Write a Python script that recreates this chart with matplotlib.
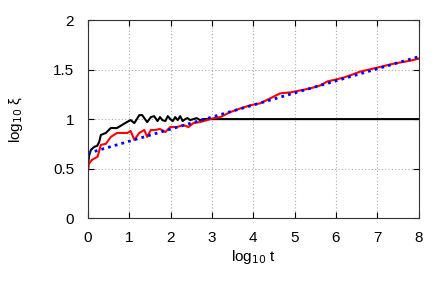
import matplotlib
matplotlib.use("Agg")
import matplotlib.pyplot as plt

plt.rcParams['font.family'] = ['Liberation Sans', 'DejaVu Sans']

# black curve (saturates at 1)
xb = [0, 0.03, 0.07, 0.15, 0.22, 0.27, 0.31, 0.37, 0.43, 0.55, 0.62, 0.7, 0.82, 0.94, 1.03,
      1.12, 1.24, 1.31, 1.43, 1.52, 1.6, 1.68, 1.74, 1.8, 1.87, 1.93, 1.99, 2.05, 2.11, 2.17,
      2.23, 2.29, 2.35, 2.41, 2.47, 2.55, 2.63, 2.71, 2.79, 2.88, 2.96, 3.0, 8.0]
yb = [0.55, 0.64, 0.69, 0.72, 0.73, 0.77, 0.84, 0.85, 0.86, 0.91, 0.91, 0.91, 0.94, 0.97, 0.99,
      0.96, 1.04, 1.04, 0.97, 1.02, 1.03, 0.98, 1.02, 0.99, 0.98, 1.03, 1.0, 0.98, 1.02, 0.99,
      1.03, 0.98, 1.0, 1.01, 0.99, 1.0, 1.01, 0.99, 1.0, 1.0, 1.0, 1.0, 1.0]

# red curve
xr = [0, 0.02, 0.1, 0.23, 0.31, 0.43, 0.55, 0.7, 0.82, 0.95, 1.03, 1.12, 1.24, 1.36, 1.43,
      1.52, 1.62, 1.74, 1.87, 1.99, 2.15, 2.31, 2.43, 2.55, 2.71, 2.88, 3.04, 3.2, 3.44, 3.7,
      3.93, 4.17, 4.41, 4.65, 4.9, 5.14, 5.38, 5.62, 5.79, 6.0, 6.19, 6.4, 6.59, 6.8, 7.0,
      7.2, 7.4, 7.6, 7.8, 8.0]
yr = [0.48, 0.55, 0.59, 0.62, 0.74, 0.75, 0.82, 0.86, 0.86, 0.86, 0.88, 0.79, 0.86, 0.89, 0.82,
      0.89, 0.89, 0.9, 0.87, 0.92, 0.92, 0.94, 0.92, 0.96, 0.97, 0.99, 1.01, 1.02, 1.07, 1.11,
      1.14, 1.16, 1.21, 1.26, 1.27, 1.29, 1.31, 1.34, 1.38, 1.40, 1.42, 1.45, 1.48, 1.50, 1.52,
      1.54, 1.56, 1.575, 1.59, 1.61]

# blue dotted fit
xfit = [0, 8]
yfit = [0.655, 1.63]

fig = plt.figure(figsize=(4.36, 2.87), dpi=100)
ax = fig.add_axes([0.202, 0.240, 0.758, 0.690])

ax.plot(xb, yb, color='black', lw=1.5)
ax.plot(xr, yr, color='red', lw=1.5)
ax.plot(xfit, yfit, color='blue', lw=2, linestyle=(0, (1, 1.5)))

ax.set_xlim(0, 8)
ax.set_ylim(0, 2)
ax.set_xticks(range(0, 9))
ax.set_yticks([0, 0.5, 1, 1.5, 2])
ax.set_yticklabels(['0', '0.5', '1', '1.5', '2'])
ax.grid(True, color='#aaaaaa', linestyle=(0, (1, 2)), lw=0.8)
ax.tick_params(direction='in', top=True, right=True, labelsize=11, length=4)
ax.tick_params(axis='x', pad=9)
ax.tick_params(axis='y', pad=10)
for s in ax.spines.values():
    s.set_color('#333333')

ax.set_xlabel('log$_{10}$ t', fontsize=11)
ax.set_ylabel('log$_{10}$ ξ', fontsize=11)
ax.xaxis.set_label_coords(0.5, -0.15)
ax.yaxis.set_label_coords(-0.19, 0.5)

fig.savefig('out.png', dpi=100)
